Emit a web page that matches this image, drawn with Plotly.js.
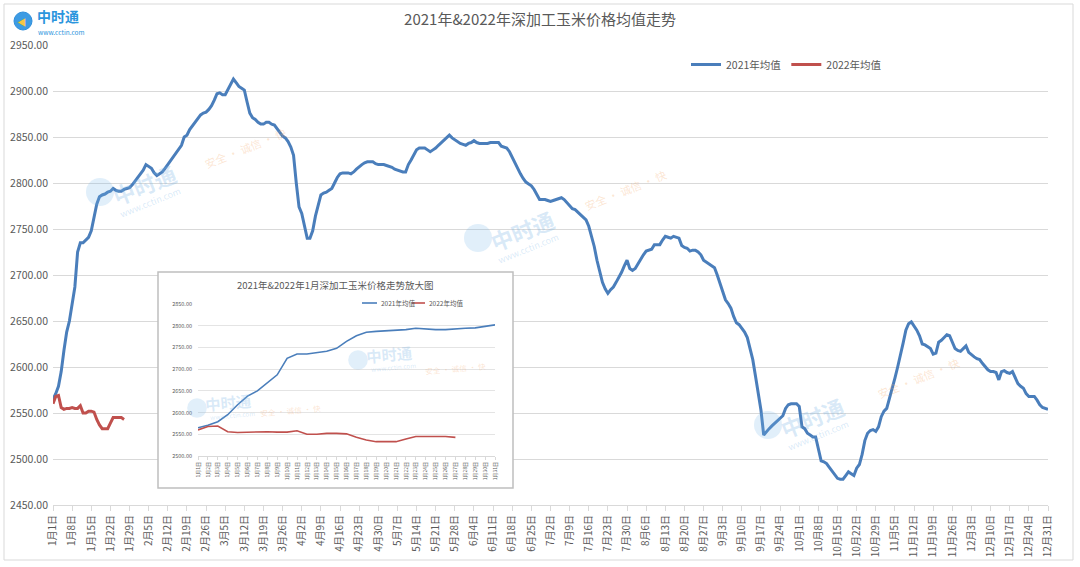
<!DOCTYPE html>
<html>
<head>
<meta charset="utf-8">
<script src="https://cdn.plot.ly/plotly-3.0.1.min.js"></script>
<style>
html,body{margin:0;padding:0;background:#ffffff;}
#chart{width:1080px;height:567px;}
</style>
</head>
<body>
<div id="chart"></div>
<script>
// ---- Data (daily average price, 2021 full year; 2022 January) ----
const seriesNames = ['2021年均值', '2022年均值'];

const avg2021 = [
  2565,2571,2579,2595,2618,2638,2650,2668,2687,2725,
  2735,2735,2738,2741,2748,2764,2777,2785,2787,2788,
  2790,2791,2794,2792,2791,2791,2793,2794,2795,2798,
  2802,2805,2809,2814,2820,2818,2816,2811,2808,2810,
  2812,2816,2820,2824,2828,2832,2836,2841,2850,2852,
  2858,2862,2867,2871,2874,2876,2877,2880,2884,2890,
  2897,2898,2896,2896,2902,2908,2913,2909,2905,2903,
  2901,2888,2876,2871,2869,2866,2864,2864,2866,2866,
  2864,2863,2859,2855,2851,2849,2845,2839,2830,2800,
  2774,2767,2755,2740,2740,2748,2764,2776,2787,2789,
  2790,2792,2794,2800,2806,2810,2811,2811,2811,2810,
  2812,2815,2818,2820,2822,2823,2823,2823,2821,2820,
  2820,2820,2819,2818,2817,2815,2814,2813,2812,2812,
  2820,2825,2830,2836,2838,2838,2838,2836,2834,2836,
  2838,2841,2844,2847,2850,2852,2849,2847,2845,2843,
  2842,2841,2843,2844,2846,2844,2843,2843,2843,2843,
  2844,2844,2844,2844,2840,2839,2838,2834,2828,2821,
  2815,2810,2805,2801,2799,2797,2793,2788,2782,2782,
  2782,2781,2780,2781,2782,2783,2784,2782,2779,2775,
  2772,2771,2768,2765,2762,2760,2753,2742,2731,2716,
  2703,2692,2685,2680,2684,2687,2692,2697,2703,2710,
  2716,2707,2705,2707,2712,2718,2722,2726,2727,2728,
  2733,2733,2733,2738,2742,2741,2740,2742,2741,2740,
  2732,2730,2729,2726,2727,2727,2725,2722,2716,2714,
  2712,2710,2708,2700,2691,2682,2673,2669,2664,2655,
  2648,2646,2642,2638,2632,2620,2608,2590,2570,2553,
  2526,2530,2533,2536,2539,2542,2544,2547,2555,2559,
  2560,2560,2560,2557,2535,2533,2528,2526,2524,2524,
  2510,2498,2497,2495,2491,2487,2483,2479,2478,2478,
  2482,2486,2484,2482,2490,2494,2505,2520,2528,2531,
  2532,2530,2535,2546,2552,2555,2566,2576,2588,2600,
  2615,2626,2640,2647,2649,2645,2640,2634,2625,2624,
  2622,2620,2614,2615,2627,2629,2632,2635,2634,2627,
  2620,2618,2617,2620,2623,2616,2613,2611,2609,2608,
  2604,2600,2597,2595,2595,2594,2586,2595,2596,2594,
  2593,2595,2588,2582,2579,2577,2571,2568,2568,2568,
  2564,2559,2556,2555,2554
];

const avg2022 = [
  2560,2568,2569,2556,2554,2555,2555,2556,2555,2555,
  2558,2550,2550,2552,2552,2551,2543,2537,2533,2533,
  2533,2539,2545,2545,2545,2545,2543
];

const tickLabels = [
  '1月1日','1月8日','1月15日','1月22日','1月29日','2月5日','2月12日','2月19日','2月26日',
  '3月5日','3月12日','3月19日','3月26日','4月2日','4月9日','4月16日','4月23日','4月30日',
  '5月7日','5月14日','5月21日','5月28日','6月4日','6月11日','6月18日','6月25日',
  '7月2日','7月9日','7月16日','7月23日','7月30日','8月6日','8月13日','8月20日','8月27日',
  '9月3日','9月10日','9月17日','9月24日','10月1日','10月8日','10月15日','10月22日','10月29日',
  '11月5日','11月12日','11月19日','11月26日','12月3日','12月10日','12月17日','12月24日','12月31日'
];

const insetLabels = [
  '1月1日','1月2日','1月3日','1月4日','1月5日','1月6日','1月7日','1月8日','1月9日','1月10日',
  '1月11日','1月12日','1月13日','1月14日','1月15日','1月16日','1月17日','1月18日','1月19日','1月20日',
  '1月21日','1月22日','1月23日','1月24日','1月25日','1月26日','1月27日','1月28日','1月29日','1月30日','1月31日'
];

const mainTitle = '2021年&2022年深加工玉米价格均值走势';
const insetTitle = '2021年&2022年1月深加工玉米价格走势放大图';
const brandName = '中时通';
const brandUrl = 'www.cctin.com';
const slogan = '安全 · 诚信 · 快';

// ---- Styling ----
const FONT = '"Noto Sans CJK SC", "Noto Sans", sans-serif';
const BLUE = '#4a7ebb', RED = '#c0504d', GRAY = '#595959', GRID = '#d9d9d9';
const WM_BLUE = 'rgba(120,180,230,0.28)', WM_ORANGE = 'rgba(245,170,110,0.30)';
const idx = a => a.map((_, i) => i);
const jan2021 = avg2021.slice(0, insetLabels.length);
const WEEK = 7;

const traces = [
  {x: idx(avg2021), y: avg2021, name: seriesNames[0], type: 'scatter', mode: 'lines',
   line: {color: BLUE, width: 3}, xaxis: 'x', yaxis: 'y'},
  {x: idx(avg2022), y: avg2022, name: seriesNames[1], type: 'scatter', mode: 'lines',
   line: {color: RED, width: 3}, xaxis: 'x', yaxis: 'y'},
  // inset backing panel
  {x: [0], y: [0], type: 'scatter', mode: 'lines', showlegend: false, hoverinfo: 'skip',
   xaxis: 'x2', yaxis: 'y2'},
  // inset series
  {x: idx(jan2021), y: jan2021, name: seriesNames[0], type: 'scatter', mode: 'lines', showlegend: false,
   line: {color: BLUE, width: 1.6}, xaxis: 'x3', yaxis: 'y3'},
  {x: idx(avg2022), y: avg2022, name: seriesNames[1], type: 'scatter', mode: 'lines', showlegend: false,
   line: {color: RED, width: 1.6}, xaxis: 'x3', yaxis: 'y3'}
];

// paper-coordinate helpers (plot area: x 53..1048 px, y 45..505 px)
const px = x => (x - 53) / 995;
const py = y => (505 - y) / 460;

// faint watermarks (decorative)
const wmShapes = [];
const wmAnnots = [];
function watermark(cx, cy, scale, angle) {
  const r = 14 * scale;
  wmShapes.push({type: 'circle', xref: 'paper', yref: 'paper',
    x0: px(cx - r), x1: px(cx + r), y0: py(cy + r), y1: py(cy - r),
    line: {width: 0}, fillcolor: 'rgba(120,180,230,0.22)', layer: 'above'});
  const rad = -angle * Math.PI / 180;
  const tx = cx + r + 30 * scale, ty = cy - 8 * scale;
  wmAnnots.push({text: '<b>' + brandName + '</b>', xref: 'paper', yref: 'paper',
    x: px(tx), y: py(ty), xanchor: 'center', yanchor: 'middle', showarrow: false,
    textangle: angle, font: {family: FONT, size: 22 * scale, color: WM_BLUE}});
  wmAnnots.push({text: brandUrl, xref: 'paper', yref: 'paper',
    x: px(tx + 6 * scale), y: py(ty + 18 * scale), xanchor: 'center', yanchor: 'middle', showarrow: false,
    textangle: angle, font: {family: FONT, size: 9 * scale, color: WM_BLUE}});
}
function sloganMark(cx, cy, scale, angle) {
  wmAnnots.push({text: slogan, xref: 'paper', yref: 'paper', x: px(cx), y: py(cy),
    xanchor: 'center', yanchor: 'middle', showarrow: false, textangle: angle,
    font: {family: FONT, size: 11 * scale, color: WM_ORANGE}});
}
watermark(100, 192, 1, -22);
watermark(478, 238, 1, -22);
watermark(768, 425, 1, -22);
watermark(358, 360, 0.7, -5);
watermark(197, 408, 0.7, -5);
sloganMark(245, 148, 1, -22);
sloganMark(625, 190, 1, -22);
sloganMark(918, 378, 1, -22);
sloganMark(455, 368, 0.7, -5);
sloganMark(290, 410, 0.7, -5);

const layout = {
  width: 1080, height: 567,
  margin: {l: 53, r: 32, t: 45, b: 62, pad: 0},
  paper_bgcolor: '#ffffff', plot_bgcolor: '#ffffff',
  font: {family: FONT, color: GRAY, size: 11},
  title: {text: mainTitle, x: 0.5, xref: 'container', xanchor: 'center',
          y: 1 - 20 / 567, yref: 'container', yanchor: 'middle',
          font: {family: FONT, size: 15, color: GRAY}},
  showlegend: true,
  legend: {orientation: 'h', x: px(686), xanchor: 'left', y: py(50), yanchor: 'top',
           font: {family: FONT, size: 10.5, color: GRAY}, bgcolor: 'rgba(0,0,0,0)',
           itemwidth: 30, tracegroupgap: 0},
  xaxis: {domain: [0, 1], anchor: 'y', range: [0, avg2021.length - 1],
          tickmode: 'array', tickvals: tickLabels.map((_, i) => i * WEEK), ticktext: tickLabels,
          tickangle: -90, tickfont: {family: FONT, size: 10, color: GRAY},
          showgrid: false, zeroline: false, showline: true, linecolor: GRID, linewidth: 1,
          ticks: 'outside', ticklen: 5, tickcolor: GRID, fixedrange: true},
  yaxis: {domain: [0, 1], anchor: 'x', range: [2450, 2950], tick0: 2450, dtick: 50,
          tickformat: '.2f', tickfont: {family: FONT, size: 10.5, color: GRAY},
          gridcolor: GRID, gridwidth: 1, zeroline: false, showline: false, ticks: '',
          ticklabelstandoff: 4, fixedrange: true},
  xaxis2: {domain: [px(158), px(513)], anchor: 'y2', range: [0, 1], visible: false, fixedrange: true},
  yaxis2: {domain: [py(488), py(272)], anchor: 'x2', range: [0, 1], visible: false, fixedrange: true},
  xaxis3: {domain: [px(198), px(495)], anchor: 'y3', range: [0, insetLabels.length - 1],
           tickmode: 'array', tickvals: idx(insetLabels), ticktext: insetLabels,
           tickangle: -90, tickfont: {family: FONT, size: 5, color: GRAY},
           showgrid: false, zeroline: false, showline: true, linecolor: GRID, linewidth: 1,
           ticks: 'outside', ticklen: 3, tickcolor: GRID, fixedrange: true},
  yaxis3: {domain: [py(456), py(304)], anchor: 'x3', range: [2500, 2850], tick0: 2500, dtick: 50,
           tickformat: '.2f', tickfont: {family: FONT, size: 5.5, color: GRAY},
           gridcolor: '#e4e4e4', gridwidth: 1, zeroline: false, showline: false, ticks: '',
           ticklabelstandoff: 5, fixedrange: true},
  shapes: [
    // outer chart border
    {type: 'rect', xref: 'paper', yref: 'paper', x0: px(4), x1: px(1073), y0: py(560), y1: py(4),
     line: {color: '#d9d9d9', width: 1}, fillcolor: 'rgba(0,0,0,0)', layer: 'above'},
    // inset border
    {type: 'rect', xref: 'paper', yref: 'paper', x0: px(158), x1: px(513), y0: py(488), y1: py(272),
     line: {color: '#bfbfbf', width: 1.5}, fillcolor: 'rgba(0,0,0,0)', layer: 'above'},
    // inset legend symbols
    {type: 'line', xref: 'paper', yref: 'paper', x0: px(362), x1: px(377), y0: py(303), y1: py(303),
     line: {color: BLUE, width: 1.6}, layer: 'above'},
    {type: 'line', xref: 'paper', yref: 'paper', x0: px(412), x1: px(425), y0: py(303), y1: py(303),
     line: {color: RED, width: 1.6}, layer: 'above'},
    // logo circle
    {type: 'circle', xref: 'paper', yref: 'paper', x0: px(14), x1: px(32), y0: py(30), y1: py(12),
     line: {color: '#2f8fdc', width: 1}, fillcolor: '#3d9be3', layer: 'above'}
  ].concat(wmShapes),
  annotations: [
    {text: insetTitle, xref: 'paper', yref: 'paper', x: px(335), y: py(285),
     xanchor: 'center', yanchor: 'middle', showarrow: false,
     font: {family: FONT, size: 9.5, color: GRAY}},
    {text: seriesNames[0], xref: 'paper', yref: 'paper', x: px(379), y: py(303),
     xanchor: 'left', yanchor: 'middle', showarrow: false,
     font: {family: FONT, size: 6.5, color: GRAY}},
    {text: seriesNames[1], xref: 'paper', yref: 'paper', x: px(427), y: py(303),
     xanchor: 'left', yanchor: 'middle', showarrow: false,
     font: {family: FONT, size: 6.5, color: GRAY}},
    {text: '<b>' + brandName + '</b>', xref: 'paper', yref: 'paper', x: px(36), y: py(16),
     xanchor: 'left', yanchor: 'middle', showarrow: false, borderpad: 0,
     font: {family: FONT, size: 14, color: '#2b95dd'}},
    {text: brandUrl, xref: 'paper', yref: 'paper', x: px(37), y: py(32),
     xanchor: 'left', yanchor: 'middle', showarrow: false, borderpad: 0,
     font: {family: FONT, size: 6.5, color: '#2b95dd'}},
    {text: '▲', xref: 'paper', yref: 'paper', x: px(23), y: py(21),
     xanchor: 'center', yanchor: 'middle', showarrow: false, textangle: 30,
     font: {family: FONT, size: 9, color: '#f6c644'}}
  ].concat(wmAnnots)
};

Plotly.newPlot('chart', traces, layout, {staticPlot: true, displayModeBar: false});
</script>
</body>
</html>
